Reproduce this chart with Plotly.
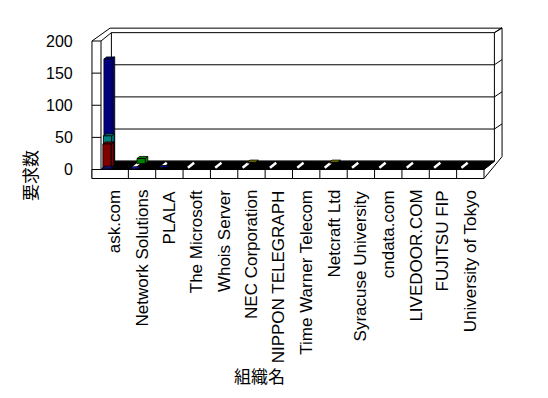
import plotly.graph_objects as go

# ---- data -------------------------------------------------------------
categories = ["ask.com", "Network Solutions", "PLALA", "The Microsoft", "Whois Server",
              "NEC Corporation", "NIPPON TELEGRAPH", "Time Warner Telecom", "Netcraft Ltd",
              "Syracuse University", "cndata.com", "LIVEDOOR.COM", "FUJITSU FIP",
              "University of Tokyo"]

series_blue = [2, 1, 0, 0, 0, 0, 0, 0, 0, 0, 0, 0, 0, 0]
series_red = [39, 0, 0, 0, 0, 0, 0, 0, 0, 0, 0, 0, 0, 0]
series_teal = [51, 0, 0, 0, 0, 0, 0, 0, 0, 0, 0, 0, 0, 0]
series_navy = [170, 0, 1, 0, 0, 0, 0, 0, 0, 0, 0, 0, 0, 0]
series_green = [0, 8, 0, 0, 0, 0, 0, 0, 0, 0, 0, 0, 0, 0]
series_olive = [0, 0, 0, 0, 0, 1, 0, 0, 1, 0, 0, 0, 0, 0]

y_ticks = [0, 50, 100, 150, 200]
y_title = "要求数"
x_title = "組織名"

# ---- geometry of the pseudo-3D box (data units) ------------------------
W, H = 548, 398
N = len(categories)
PX_LEFT, PX_RIGHT = 101, 484        # front plane, category span
PX_ZERO, PX_TOP = 169.5, 41         # front plane, value 0 and 200
xs = (PX_RIGHT - PX_LEFT) / N
ys = (PX_ZERO - PX_TOP) / 200.0
xr = [-PX_LEFT / xs, (W - PX_LEFT) / xs]
yr = [(PX_ZERO - H) / ys, PX_ZERO / ys]

DX, DY = 0.38, 13.0                  # depth vector (category, value units)
XL = -0.33                           # outer edge of the left wall
XR = N + 0.66                        # outer edge of the right wall
VTOP_OUT = 220                       # outer top rim
FLOOR_T = 14                         # floor thickness in value units
BAR_A, BAR_W, BAR_D = 0.05, 0.30, 0.25

fig = go.Figure()


def line(x0, y0, x1, y1, color="black", width=1):
    fig.add_shape(type="line", xref="x", yref="y", x0=x0, y0=y0, x1=x1, y1=y1,
                  line=dict(color=color, width=width), layer="below")


def poly(pts, fill, lw=1, lc="black"):
    path = "M " + " L ".join(f"{x},{y}" for x, y in pts) + " Z"
    fig.add_shape(type="path", xref="x", yref="y", path=path, fillcolor=fill,
                  line=dict(color=lc, width=lw), layer="below")


# back wall with gridlines
poly([(DX, DY), (N + DX, DY), (N + DX, 200 + DY), (DX, 200 + DY)], "white")
for v in y_ticks[1:-1]:
    line(DX, v + DY, N + DX, v + DY)
for v in y_ticks[1:]:
    line(N + DX, v + DY, XR, v + DY + 8)

# outer rim of walls
line(XL, 200, DX - 0.05, VTOP_OUT)
line(0, 200, DX, 200 + DY)
line(DX - 0.05, VTOP_OUT, XR, VTOP_OUT)
line(XR, VTOP_OUT, XR, 20)
line(XR, 20, N, -FLOOR_T)
line(N + DX, 200 + DY, XR, VTOP_OUT)

# left wall
line(XL, 200, XL, -FLOOR_T)
line(0, 200, 0, 0)
for v in y_ticks:
    line(XL, v, 0, v)

# floor top (black) with light gaps between categories
poly([(0, 0), (N, 0), (N + DX, DY), (DX, DY)], "black")
for b in range(1, N):
    line(b + 0.1 + DX * 0.2, DY * 0.2, b + 0.1 + DX * 0.8, DY * 0.8, color="white", width=2.5)

# floor front face with category dividers
poly([(XL, -FLOOR_T), (N, -FLOOR_T), (N, 0), (XL, 0)], "white")
for b in range(1, N):
    line(b, -FLOOR_T, b, 0)
line(N, 0, N + DX, DY)

# ---- columns: each series sits at its own depth ------------------------
series = [
    (series_olive, "#808000", 0.80),
    (series_green, "#008000", 0.70),
    (series_navy, "#000080", 0.15),
    (series_teal, "#008080", 0.10),
    (series_red, "#800000", 0.05),
    (series_blue, "#1a1ab0", 0.00),
]


def face(xs_, ys_, color):
    fig.add_trace(go.Scatter(x=xs_, y=ys_, mode="lines", fill="toself", fillcolor=color,
                             line=dict(color="black", width=0.8), hoverinfo="skip",
                             showlegend=False))


for vals, color, t in series:
    for i, v in enumerate(vals):
        if v <= 0:
            continue
        x0 = i + BAR_A + DX * t
        x1 = x0 + BAR_W
        y0 = DY * t
        ddx, ddy = DX * BAR_D, DY * BAR_D
        # right side
        face([x1, x1 + ddx, x1 + ddx, x1, x1], [y0, y0 + ddy, y0 + v + ddy, y0 + v, y0], color)
        # top
        face([x0, x1, x1 + ddx, x0 + ddx, x0],
             [y0 + v, y0 + v, y0 + v + ddy, y0 + v + ddy, y0 + v], color)
        # front
        face([x0, x1, x1, x0, x0], [y0, y0, y0 + v, y0 + v, y0], color)

# ---- text -------------------------------------------------------------
lat = dict(family="Liberation Sans, Arial, sans-serif", color="black")
cjk = dict(family="Noto Sans CJK JP, sans-serif", color="black", size=17)

for v in y_ticks:
    fig.add_annotation(x=XL - 0.62, y=v, text=str(v), showarrow=False, xanchor="right",
                       yanchor="middle", font=dict(size=16, **lat))

for i, c in enumerate(categories):
    fig.add_annotation(x=i + 0.5, y=(PX_ZERO - 188) / ys, text=c, showarrow=False,
                       textangle=-90, xanchor="center", yanchor="top",
                       font=dict(size=17, **lat))

fig.add_annotation(x=(259 - PX_LEFT) / xs, y=(PX_ZERO - 375) / ys, text=x_title,
                   showarrow=False, font=cjk)
fig.add_annotation(x=(29 - PX_LEFT) / xs, y=(PX_ZERO - 176) / ys, text=y_title,
                   showarrow=False, textangle=-90, font=cjk)

fig.update_layout(
    width=W, height=H, autosize=False,
    margin=dict(l=0, r=0, t=0, b=0, pad=0),
    paper_bgcolor="white", plot_bgcolor="white",
    showlegend=False,
    xaxis=dict(range=xr, visible=False, fixedrange=True),
    yaxis=dict(range=yr, visible=False, fixedrange=True),
)

fig.write_html("out.html")
